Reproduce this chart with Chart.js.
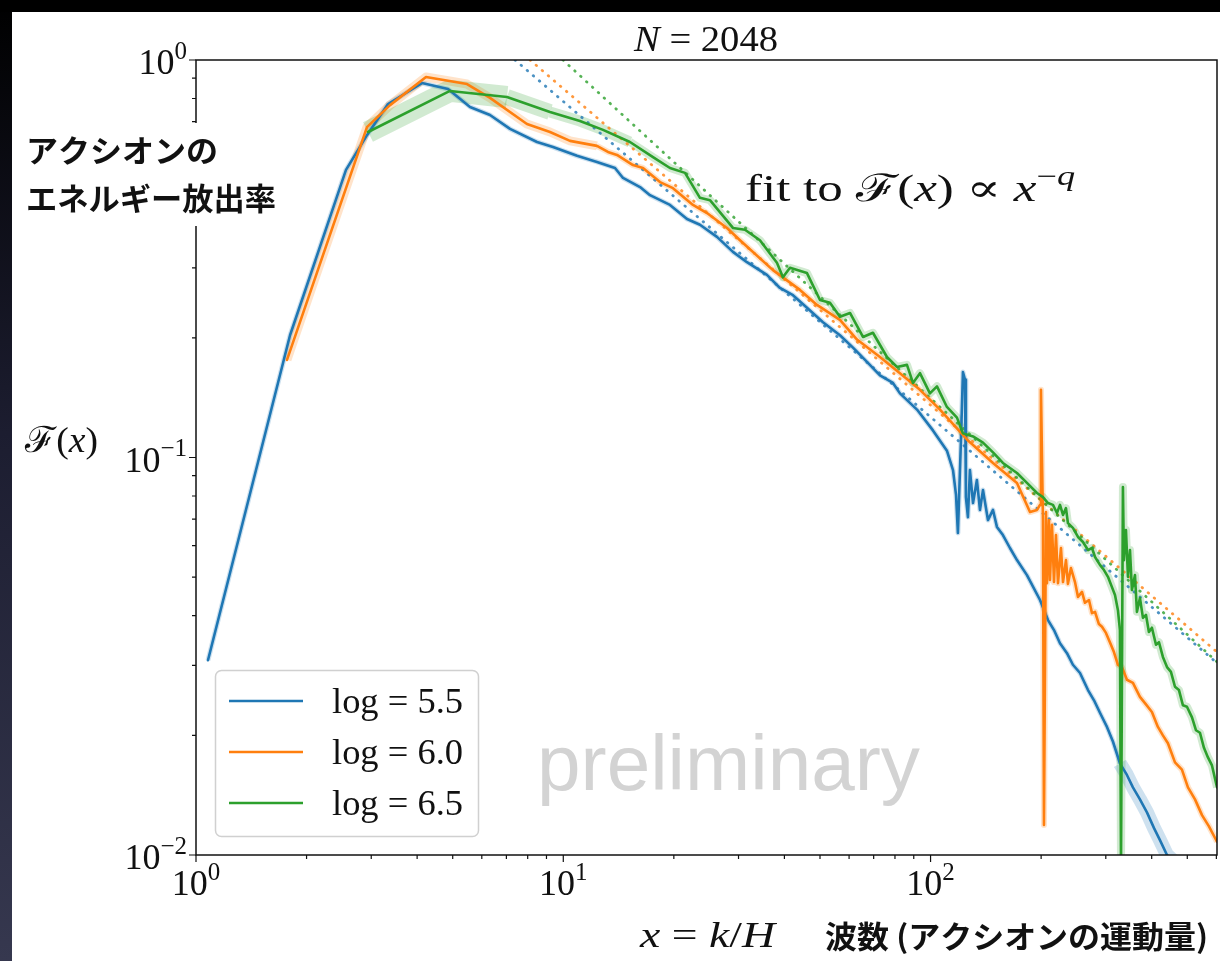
<!DOCTYPE html>
<html>
<head>
<meta charset="utf-8">
<script src="https://cdn.jsdelivr.net/npm/chart.js@4.4.1/dist/chart.umd.min.js"></script>
<style>
  html, body { margin: 0; padding: 0; background: #fff; }
  #wrap { width: 1220px; height: 961px; }
</style>
</head>
<body>
<div id="wrap"><canvas id="chart" width="1220" height="961"></canvas></div>
<script>
// values (x = k/H, F(x))
const blueX = [1.078, 1.803, 2.561, 2.921, 3.332, 4.124, 4.855, 5.572, 6.316, 7.161, 8.481, 9.376, 10.90, 12.35, 13.83, 14.54,
  16.18, 17.22, 19.52, 21.72, 23.56, 26.21, 28.97, 31.63, 35.85, 38.90, 42.21, 46.08, 50.94, 56.66, 61.49, 67.13, 72.81,
  79.00, 82.54, 91.84, 101.5, 110.8, 115.1, 117.3, 118.7, 121.0, 122.5, 124.1, 124.8, 126.4, 128.0, 130.5, 133.7, 136.3,
  138.9, 143.3, 147.9, 151.6, 157.4, 164.5, 171.9, 183.0, 198.6, 208.8, 216.8, 225.1, 235.2, 244.1, 255.2, 268.3, 278.6,
  289.2, 302.2, 313.7, 327.8, 342.5, 355.6, 371.6, 388.3, 405.6, 421.3, 440.3, 541.4];
const blueY = [0.0309, 0.203, 0.529, 0.647, 0.775, 0.875, 0.845, 0.762, 0.727, 0.671, 0.622, 0.604, 0.574, 0.554, 0.535, 0.505,
  0.479, 0.457, 0.432, 0.398, 0.385, 0.359, 0.329, 0.310, 0.288, 0.267, 0.256, 0.238, 0.219, 0.203, 0.189, 0.174, 0.161,
  0.154, 0.145, 0.132, 0.117, 0.104, 0.0930, 0.0805, 0.0646, 0.111, 0.164, 0.157, 0.0795, 0.0708, 0.0930, 0.0768, 0.0878, 0.0738,
  0.0828, 0.0696, 0.0738, 0.0669, 0.0638, 0.0592, 0.0552, 0.0506, 0.0438, 0.0390, 0.0368, 0.0341, 0.0322, 0.0301, 0.0287, 0.0260, 0.0245,
  0.0228, 0.0210, 0.0193, 0.0170, 0.0159, 0.0148, 0.0138, 0.0128, 0.0117, 0.0109, 0.0100, 0.0084];

const orangeX = [1.769, 2.921, 3.375, 4.229, 5.469, 6.316, 7.964, 9.201, 10.43, 12.35, 13.23, 14.00, 15.48, 16.48, 18.34, 19.89,
  22.55, 24.62, 27.91, 30.28, 37.23, 44.10, 49.06, 56.66, 63.05, 72.81, 82.54, 93.57, 106.1, 125.6, 147.9, 171.9, 186.5,
  194.9, 198.6, 199.8, 202.3, 203.6, 206.2, 207.5, 210.1, 211.4, 214.1, 216.8, 219.5, 222.3, 226.5, 229.4, 233.7, 236.6,
  241.1, 247.3, 252.0, 258.4, 263.3, 270.0, 275.1, 280.4, 287.3, 292.9, 300.3, 307.8, 315.7, 323.7, 331.9, 342.5, 355.6,
  371.6, 383.5, 400.6, 415.9, 429.1, 442.9, 462.9, 483.5, 502.1, 524.8, 548.3, 572.8, 602.4];
const orangeY = [0.176, 0.678, 0.770, 0.906, 0.870, 0.803, 0.690, 0.659, 0.626, 0.608, 0.587, 0.577, 0.544, 0.535, 0.493, 0.476,
  0.432, 0.412, 0.378, 0.352, 0.296, 0.264, 0.242, 0.222, 0.198, 0.179, 0.163, 0.148, 0.132, 0.111, 0.0969, 0.0863, 0.0729,
  0.0738, 0.0760, 0.148, 0.0696, 0.0119, 0.0729, 0.0483, 0.0696, 0.0492, 0.0677, 0.0486, 0.0638, 0.0483, 0.0592, 0.0486, 0.0552, 0.0481,
  0.0527, 0.0486, 0.0446, 0.0459, 0.0431, 0.0438, 0.0406, 0.0409, 0.0381, 0.0375, 0.0362, 0.0343, 0.0324, 0.0301, 0.0297, 0.0276, 0.0271,
  0.0250, 0.0241, 0.0229, 0.0210, 0.0200, 0.0191, 0.0171, 0.0164, 0.0148, 0.0138, 0.0126, 0.0118, 0.0108];

const greenX = [2.940, 4.915, 7.027, 9.201, 11.10, 12.83, 15.19, 17.55, 19.52, 21.45, 23.56, 25.08, 28.97, 31.24, 34.31, 38.17,
  39.63, 41.42, 46.08, 50.00, 53.22, 56.66, 60.34, 65.46, 69.68, 76.08, 81.0, 86.25, 89.56, 93.57, 99.6, 104.1, 110.8,
  118.0, 122.5, 130.5, 138.9, 147.9, 157.4, 171.9, 183.0, 194.9, 202.3, 208.8, 215.4, 220.9, 225.1, 229.4, 233.7, 236.6,
  244.1, 252.0, 260.0, 268.3, 275.1, 280.4, 289.2, 296.6, 304.1, 311.8, 317.8, 323.7, 327.8, 330.0, 334.0, 336.1, 340.4,
  344.7, 349.1, 353.4, 360.2, 364.7, 371.6, 378.7, 385.9, 393.1, 400.6, 410.9, 418.7, 429.1, 440.3, 451.3, 462.9, 474.6,
  486.6, 499.0, 515.0, 527.9, 541.4, 555.1, 569.2, 583.7, 602.4];
const greenY = [0.659, 0.836, 0.807, 0.740, 0.702, 0.667, 0.622, 0.570, 0.535, 0.520, 0.450, 0.444, 0.378, 0.374, 0.352, 0.309,
  0.284, 0.300, 0.291, 0.249, 0.245, 0.226, 0.231, 0.201, 0.206, 0.179, 0.169, 0.171, 0.154, 0.163, 0.145, 0.151, 0.134,
  0.126, 0.115, 0.113, 0.109, 0.103, 0.0969, 0.0914, 0.0863, 0.0814, 0.0795, 0.0768, 0.0760, 0.0725, 0.0760, 0.0717, 0.0746, 0.0684,
  0.0665, 0.0631, 0.0613, 0.0585, 0.0592, 0.0562, 0.0537, 0.0521, 0.0501, 0.0472, 0.0451, 0.0413, 0.0368, 0.0094, 0.0843, 0.0552, 0.0657,
  0.0501, 0.0585, 0.0464, 0.0506, 0.0409, 0.0443, 0.0395, 0.0402, 0.0364, 0.0373, 0.0338, 0.0343, 0.0315, 0.0297, 0.0289, 0.0265, 0.0260,
  0.0238, 0.0236, 0.0222, 0.0206, 0.0203, 0.0186, 0.0176, 0.0168, 0.0148];

// power-law fits F(x) ~ x^-q (end points)
const fitBlueX = [7.39, 602.4];
const fitBlueY = [1.0, 0.0304];
const fitOrangeX = [8.12, 602.4];
const fitOrangeY = [1.0, 0.0324];
const fitGreenX = [9.98, 602.4];
const fitGreenY = [1.0, 0.0306];

const seriesLabels = ['5.5', '6.0', '6.5'];
const seriesColors = ['#1f77b4', '#ff7f0e', '#2ca02c'];

const xTickValues = [1, 10, 100];
const xTickExps = ['0', '1', '2'];
const yTickValues = [0.01, 0.1, 1];
const yTickExps = ['\u22122', '\u22121', '0'];
const minorSteps = [2, 3, 4, 5, 6, 7, 8, 9];

const SERIF = '"Liberation Serif", "DejaVu Serif", serif';
const CAL = '"DejaVu Serif", serif';
const JP = '"Noto Sans CJK JP", sans-serif';

const pts = (xs, ys) => xs.map((x, i) => ({ x: x, y: ys[i] }));

function rgba(hex, a) {
  const n = parseInt(hex.slice(1), 16);
  return 'rgba(' + (n >> 16) + ',' + ((n >> 8) & 255) + ',' + (n & 255) + ',' + a + ')';
}

// soft band around each curve
function halo(xs, ys, color, widthAt, order) {
  return {
    data: pts(xs, ys), borderColor: rgba(color, 0.22), borderWidth: 8, order: order,
    borderJoinStyle: 'round', borderCapStyle: 'butt',
    segment: { borderWidth: ctx => widthAt(ctx.p0.parsed.x) }
  };
}

function solid(xs, ys, color, label, order) {
  return { label: label, data: pts(xs, ys), borderColor: color, borderWidth: 2.6, order: order,
    borderJoinStyle: 'round', borderCapStyle: 'round' };
}

function dotted(xs, ys, color, order) {
  return { data: pts(xs, ys), borderColor: rgba(color, 0.8), borderWidth: 2.8, order: order,
    borderDash: [0.5, 7.5], borderCapStyle: 'round' };
}

// text made of runs: roman, italic, superscript, other families
function drawRich(c, parts, x, y, size, align, width) {
  const font = p => (p.b ? 'bold ' : '') + (p.it ? 'italic ' : '') +
    (p.sup ? Math.round(size * 0.7) : size) + 'px ' + (p.fam || SERIF);
  let w = 0;
  parts.forEach(p => { c.font = font(p); p.w = c.measureText(p.t).width; w += p.w; });
  const sx = width ? width / w : 1;
  const tw = w * sx;
  const x0 = align === 'center' ? x - tw / 2 : align === 'right' ? x - tw : x;
  c.save();
  c.translate(x0, y);
  c.scale(sx, 1);
  c.textAlign = 'left';
  c.textBaseline = 'alphabetic';
  let cx = 0;
  parts.forEach(p => { c.font = font(p); c.fillText(p.t, cx, p.sup ? -size * 0.42 : 0); cx += p.w; });
  c.restore();
}

const backdrop = {
  id: 'backdrop',
  beforeDraw(chart) {
    const c = chart.ctx, W = chart.width, H = chart.height;
    c.save();
    c.fillStyle = '#fff';
    c.fillRect(0, 0, W, H);
    c.fillStyle = '#000';
    c.fillRect(0, 0, W, 12);
    const g = c.createLinearGradient(0, 0, 0, H);
    g.addColorStop(0, '#000');
    g.addColorStop(0.45, '#1c1d30');
    g.addColorStop(1, '#36384f');
    c.fillStyle = g;
    c.fillRect(0, 12, 12, H - 12);
    c.fillStyle = '#d3d3d3';
    drawRich(c, [{ t: 'preliminary', fam: '"Liberation Sans", Arial, sans-serif' }], 537, 790, 78, 'left', 383);
    c.restore();
  }
};

const decor = {
  id: 'decor',
  afterDatasetsDraw(chart) {
    const c = chart.ctx;
    const xs = chart.scales.x, ys = chart.scales.y;
    const a = chart.chartArea;
    c.save();
    // frame
    c.strokeStyle = '#111';
    c.lineWidth = 1.5;
    c.strokeRect(a.left, a.top, a.right - a.left, a.bottom - a.top);

    // ticks
    c.lineWidth = 1.2;
    c.beginPath();
    xTickValues.forEach(d => {
      const p = xs.getPixelForValue(d);
      c.moveTo(p, a.bottom); c.lineTo(p, a.bottom + 7);
      minorSteps.forEach(m => {
        const v = d * m;
        if (v > xs.max) return;
        const q = xs.getPixelForValue(v);
        c.moveTo(q, a.bottom); c.lineTo(q, a.bottom + 4);
      });
    });
    yTickValues.forEach(d => {
      const p = ys.getPixelForValue(d);
      c.moveTo(a.left, p); c.lineTo(a.left - 7, p);
      if (d >= 1) return;
      minorSteps.forEach(m => {
        const q = ys.getPixelForValue(d * m);
        c.moveTo(a.left, q); c.lineTo(a.left - 4, q);
      });
    });
    c.stroke();

    c.fillStyle = '#111';
    xTickValues.forEach((d, i) => {
      drawRich(c, [{ t: '10' }, { t: xTickExps[i], sup: true }], xs.getPixelForValue(d), a.bottom + 40, 36, 'center');
    });
    yTickValues.forEach((d, i) => {
      drawRich(c, [{ t: '10' }, { t: yTickExps[i], sup: true }], a.left - 9, ys.getPixelForValue(d) + 14, 36, 'right');
    });

    // title and labels
    drawRich(c, [{ t: 'N', it: true }, { t: ' = 2048' }], 706, 51, 36, 'center', 144);
    drawRich(c, [{ t: 'fit to ' }, { t: '\u2131', fam: CAL }, { t: '(' }, { t: 'x', it: true }, { t: ') \u221D ' },
      { t: 'x', it: true }, { t: '\u2212', sup: true }, { t: 'q', sup: true, it: true }], 745, 201, 38, 'left', 330);
    drawRich(c, [{ t: '\u2131', fam: CAL }, { t: '(' }, { t: 'x', it: true }, { t: ')' }], 25, 452, 36, 'left', 73);
    drawRich(c, [{ t: 'x', it: true }, { t: ' = ' }, { t: 'k', it: true }, { t: '/' }, { t: 'H', it: true }], 640, 947, 36, 'left', 135);
    drawRich(c, [{ t: '\u6CE2\u6570 (\u30A2\u30AF\u30B7\u30AA\u30F3\u306E\u904B\u52D5\u91CF)', fam: JP, b: true }], 825, 948, 31, 'left', 383);

    // Japanese y-label sits on a white box over the axis
    c.fillStyle = '#fff';
    c.fillRect(14, 123, 276, 103);
    c.fillStyle = '#111';
    drawRich(c, [{ t: '\u30A2\u30AF\u30B7\u30AA\u30F3\u306E', fam: JP, b: true }], 26, 162, 31, 'left', 192);
    drawRich(c, [{ t: '\u30A8\u30CD\u30EB\u30AE\u30FC\u653E\u51FA\u7387', fam: JP, b: true }], 26, 210, 31, 'left', 250);

    // legend
    c.fillStyle = 'rgba(255,255,255,0.85)';
    c.strokeStyle = '#d0d0d0';
    c.lineWidth = 1.5;
    c.beginPath();
    c.roundRect(215.5, 670.5, 263, 166, 6);
    c.fill();
    c.stroke();
    seriesLabels.forEach((lab, i) => {
      const y = 701 + i * 51;
      c.strokeStyle = seriesColors[i];
      c.lineWidth = 2.6;
      c.beginPath();
      c.moveTo(229, y); c.lineTo(303, y);
      c.stroke();
      c.fillStyle = '#111';
      drawRich(c, [{ t: 'log = ' + lab }], 332, y + 12, 35, 'left', 131);
    });
    c.restore();
  }
};

new Chart(document.getElementById('chart'), {
  type: 'line',
  data: {
    datasets: [
      solid(greenX, greenY, seriesColors[2], 'log = 6.5', 0),
      solid(orangeX, orangeY, seriesColors[1], 'log = 6.0', 1),
      solid(blueX, blueY, seriesColors[0], 'log = 5.5', 2),
      dotted(fitGreenX, fitGreenY, seriesColors[2], 3),
      dotted(fitOrangeX, fitOrangeY, seriesColors[1], 4),
      dotted(fitBlueX, fitBlueY, seriesColors[0], 5),
      halo(greenX, greenY, seriesColors[2], x => (x < 6 ? 22 : x < 9 ? 16 : x < 13 ? 11 : 8), 6),
      halo(orangeX, orangeY, seriesColors[1], x => (x < 12 ? 9 : 6), 7),
      halo(blueX, blueY, seriesColors[0], x => (x > 320 ? 14 : 5), 8)
    ]
  },
  options: {
    responsive: false,
    animation: false,
    devicePixelRatio: 1,
    layout: { padding: { left: 196, right: 3, top: 60, bottom: 106 } },
    elements: { point: { radius: 0 }, line: { tension: 0, fill: false } },
    scales: {
      x: { type: 'logarithmic', min: 1, max: 602.4, display: false },
      y: { type: 'logarithmic', min: 0.01, max: 1, display: false }
    },
    plugins: { legend: { display: false }, tooltip: { enabled: false } }
  },
  plugins: [backdrop, decor]
});
</script>
</body>
</html>
